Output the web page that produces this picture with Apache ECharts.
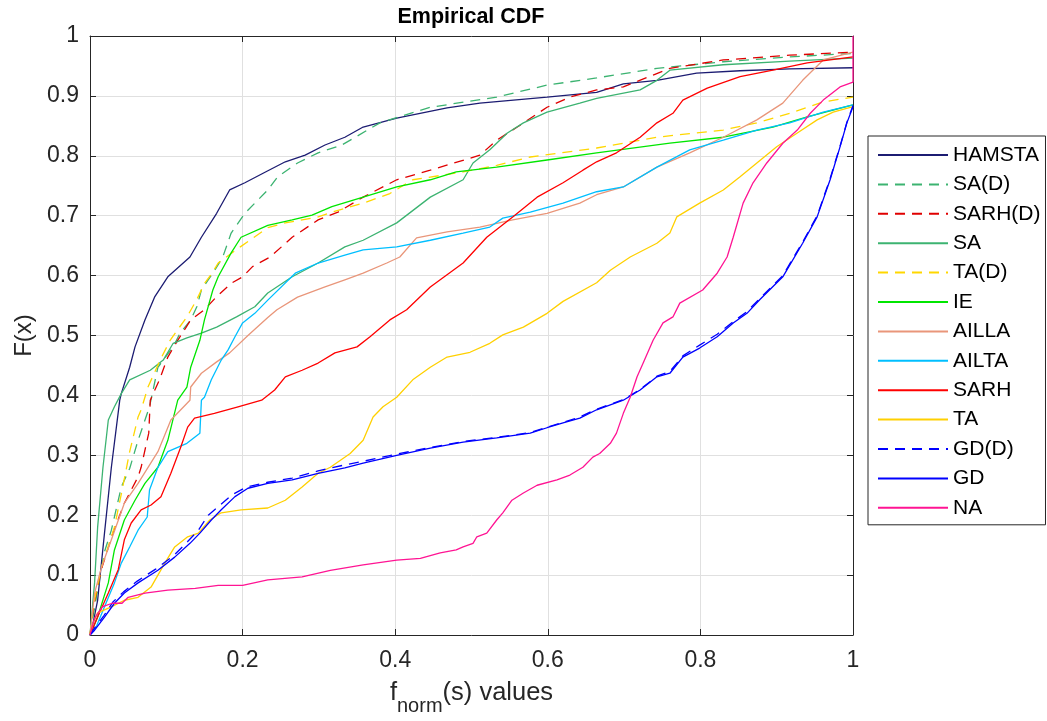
<!DOCTYPE html>
<html>
<head>
<meta charset="utf-8">
<script src="https://cdn.jsdelivr.net/npm/echarts@6/dist/echarts.min.js"></script>
<style>
  html, body { margin: 0; padding: 0; background: #fff; }
  #chart { width: 1047px; height: 721px; }
</style>
</head>
<body>
<div id="chart"></div>
<script>
const seriesNames = ["HAMSTA", "SA(D)", "SARH(D)", "SA", "TA(D)", "IE", "AILLA", "AILTA", "SARH", "TA", "GD(D)", "GD", "NA"];
const xTicks = [0, 0.2, 0.4, 0.6, 0.8, 1];
const yTicks = [0, 0.1, 0.2, 0.3, 0.4, 0.5, 0.6, 0.7, 0.8, 0.9, 1];

// [f_norm, F(x)]
const hamsta = [[0,0],[0.004,0.02],[0.01,0.058],[0.019,0.17],[0.028,0.28],[0.039,0.392],[0.041,0.403],[0.052,0.447],[0.059,0.481],[0.072,0.526],[0.085,0.565],[0.102,0.598],[0.131,0.631],[0.146,0.664],[0.166,0.704],[0.183,0.743],[0.203,0.755],[0.23,0.773],[0.256,0.79],[0.282,0.801],[0.308,0.818],[0.334,0.831],[0.358,0.848],[0.402,0.863],[0.468,0.88],[0.511,0.888],[0.599,0.898],[0.664,0.906],[0.699,0.92],[0.743,0.926],[0.795,0.938],[0.852,0.942],[0.917,0.945],[1,0.947]];
const saD = [[0,0],[0.008,0.06],[0.019,0.139],[0.028,0.175],[0.041,0.247],[0.052,0.278],[0.063,0.325],[0.078,0.381],[0.089,0.447],[0.096,0.459],[0.109,0.481],[0.118,0.504],[0.132,0.526],[0.14,0.548],[0.146,0.576],[0.161,0.604],[0.174,0.631],[0.185,0.671],[0.203,0.704],[0.233,0.743],[0.246,0.765],[0.272,0.788],[0.299,0.805],[0.33,0.818],[0.38,0.855],[0.446,0.881],[0.533,0.898],[0.599,0.918],[0.664,0.93],[0.743,0.946],[0.83,0.957],[0.917,0.965],[1,0.971]];
const sarhD = [[0,0],[0.005,0.05],[0.015,0.11],[0.03,0.17],[0.045,0.22],[0.063,0.264],[0.067,0.28],[0.077,0.337],[0.079,0.392],[0.091,0.426],[0.102,0.464],[0.115,0.492],[0.132,0.526],[0.15,0.543],[0.166,0.565],[0.185,0.587],[0.2,0.598],[0.213,0.615],[0.236,0.631],[0.265,0.664],[0.299,0.693],[0.325,0.706],[0.358,0.731],[0.402,0.76],[0.446,0.776],[0.511,0.801],[0.533,0.826],[0.56,0.848],[0.599,0.881],[0.629,0.898],[0.664,0.91],[0.699,0.915],[0.76,0.946],[0.83,0.96],[0.917,0.968],[1,0.973]];
const sa = [[0,0],[0.002,0.03],[0.006,0.087],[0.01,0.18],[0.017,0.28],[0.024,0.359],[0.032,0.381],[0.041,0.403],[0.052,0.426],[0.079,0.442],[0.096,0.459],[0.109,0.487],[0.127,0.496],[0.146,0.504],[0.166,0.514],[0.192,0.531],[0.216,0.548],[0.233,0.571],[0.265,0.598],[0.299,0.621],[0.334,0.648],[0.358,0.659],[0.402,0.688],[0.446,0.731],[0.489,0.76],[0.502,0.788],[0.524,0.81],[0.547,0.838],[0.568,0.855],[0.599,0.873],[0.642,0.888],[0.664,0.896],[0.721,0.91],[0.743,0.926],[0.76,0.943],[0.83,0.952],[0.917,0.958],[1,0.963]];
const taD = [[0,0],[0.004,0.047],[0.015,0.113],[0.032,0.18],[0.041,0.235],[0.052,0.306],[0.063,0.364],[0.067,0.376],[0.076,0.414],[0.092,0.459],[0.105,0.492],[0.127,0.531],[0.14,0.56],[0.15,0.587],[0.161,0.606],[0.168,0.621],[0.197,0.648],[0.233,0.68],[0.256,0.688],[0.299,0.698],[0.325,0.709],[0.358,0.721],[0.393,0.737],[0.423,0.76],[0.489,0.773],[0.533,0.784],[0.577,0.798],[0.664,0.813],[0.743,0.831],[0.786,0.837],[0.83,0.843],[0.874,0.855],[0.917,0.871],[0.961,0.89],[1,0.898]];
const ie = [[0,0],[0.01,0.03],[0.024,0.087],[0.032,0.142],[0.045,0.192],[0.059,0.225],[0.072,0.253],[0.089,0.28],[0.102,0.325],[0.115,0.392],[0.127,0.414],[0.132,0.447],[0.144,0.492],[0.15,0.526],[0.161,0.576],[0.168,0.598],[0.185,0.638],[0.198,0.664],[0.233,0.684],[0.265,0.693],[0.291,0.701],[0.317,0.715],[0.358,0.731],[0.402,0.748],[0.446,0.76],[0.48,0.773],[0.533,0.781],[0.599,0.793],[0.664,0.805],[0.76,0.821],[0.83,0.831],[0.895,0.848],[0.94,0.865],[1,0.885]];
const ailla = [[0,0],[0.006,0.07],[0.015,0.113],[0.028,0.159],[0.045,0.22],[0.063,0.253],[0.089,0.306],[0.106,0.359],[0.131,0.392],[0.132,0.414],[0.146,0.437],[0.166,0.456],[0.183,0.471],[0.207,0.5],[0.233,0.53],[0.245,0.543],[0.272,0.564],[0.308,0.581],[0.334,0.593],[0.358,0.604],[0.389,0.621],[0.406,0.631],[0.428,0.663],[0.468,0.673],[0.511,0.681],[0.554,0.693],[0.599,0.704],[0.642,0.721],[0.664,0.735],[0.699,0.748],[0.743,0.781],[0.786,0.805],[0.83,0.831],[0.874,0.86],[0.908,0.888],[0.934,0.926],[0.961,0.96],[1,0.973]];
const ailta = [[0,0],[0.008,0.013],[0.019,0.047],[0.032,0.087],[0.041,0.12],[0.052,0.147],[0.063,0.175],[0.075,0.197],[0.078,0.242],[0.089,0.28],[0.102,0.306],[0.127,0.32],[0.144,0.337],[0.146,0.392],[0.15,0.397],[0.159,0.426],[0.172,0.459],[0.181,0.476],[0.19,0.498],[0.2,0.521],[0.216,0.537],[0.233,0.559],[0.269,0.604],[0.299,0.621],[0.334,0.634],[0.358,0.643],[0.402,0.648],[0.446,0.659],[0.489,0.671],[0.524,0.681],[0.541,0.696],[0.577,0.706],[0.62,0.721],[0.664,0.74],[0.699,0.748],[0.743,0.781],[0.786,0.81],[0.83,0.826],[0.874,0.843],[0.917,0.855],[0.961,0.873],[1,0.885]];
const sarh = [[0,0],[0.01,0.03],[0.024,0.07],[0.037,0.109],[0.045,0.159],[0.054,0.187],[0.067,0.209],[0.08,0.217],[0.093,0.231],[0.106,0.27],[0.119,0.314],[0.128,0.347],[0.137,0.362],[0.163,0.37],[0.194,0.381],[0.225,0.392],[0.242,0.409],[0.256,0.431],[0.278,0.442],[0.299,0.454],[0.321,0.471],[0.35,0.481],[0.367,0.498],[0.393,0.526],[0.415,0.543],[0.446,0.581],[0.489,0.621],[0.52,0.664],[0.554,0.698],[0.586,0.731],[0.62,0.755],[0.646,0.776],[0.664,0.79],[0.69,0.805],[0.721,0.831],[0.743,0.855],[0.764,0.871],[0.777,0.893],[0.809,0.913],[0.852,0.932],[0.895,0.943],[0.94,0.955],[1,0.965]];
const ta = [[0,0],[0.004,0.02],[0.01,0.037],[0.028,0.047],[0.045,0.058],[0.063,0.063],[0.08,0.08],[0.098,0.12],[0.111,0.147],[0.128,0.164],[0.142,0.17],[0.157,0.192],[0.172,0.204],[0.198,0.209],[0.233,0.212],[0.256,0.225],[0.278,0.247],[0.299,0.27],[0.315,0.28],[0.341,0.303],[0.358,0.325],[0.371,0.364],[0.384,0.381],[0.402,0.397],[0.423,0.426],[0.446,0.447],[0.468,0.464],[0.498,0.472],[0.524,0.487],[0.541,0.501],[0.568,0.514],[0.599,0.537],[0.62,0.557],[0.664,0.588],[0.682,0.609],[0.708,0.631],[0.743,0.654],[0.76,0.671],[0.769,0.698],[0.799,0.721],[0.83,0.743],[0.852,0.765],[0.874,0.788],[0.9,0.815],[0.927,0.838],[0.953,0.86],[0.974,0.873],[1,0.882]];
const gdD = [[0,0],[0.005,0.01],[0.018,0.032],[0.03,0.055],[0.044,0.072],[0.062,0.09],[0.086,0.11],[0.11,0.133],[0.128,0.156],[0.142,0.175],[0.155,0.2],[0.168,0.214],[0.186,0.234],[0.205,0.247],[0.233,0.255],[0.265,0.262],[0.299,0.274],[0.334,0.284],[0.358,0.29],[0.402,0.302],[0.446,0.313],[0.489,0.323],[0.533,0.33],[0.577,0.338],[0.599,0.347],[0.62,0.355],[0.642,0.364],[0.664,0.377],[0.699,0.393],[0.721,0.41],[0.743,0.432],[0.76,0.44],[0.777,0.466],[0.799,0.484],[0.822,0.502],[0.843,0.523],[0.861,0.54],[0.878,0.562],[0.908,0.6],[0.934,0.656],[0.953,0.7],[0.97,0.762],[0.983,0.816],[0.992,0.856],[1,0.884]];
const gd = [[0,0],[0.006,0.008],[0.019,0.03],[0.032,0.053],[0.045,0.07],[0.063,0.087],[0.089,0.108],[0.111,0.13],[0.131,0.153],[0.144,0.17],[0.159,0.192],[0.172,0.209],[0.19,0.231],[0.207,0.245],[0.233,0.253],[0.265,0.259],[0.299,0.27],[0.334,0.279],[0.358,0.287],[0.402,0.3],[0.446,0.312],[0.489,0.322],[0.533,0.329],[0.577,0.337],[0.599,0.346],[0.62,0.354],[0.642,0.362],[0.664,0.376],[0.699,0.392],[0.721,0.409],[0.743,0.431],[0.76,0.437],[0.777,0.464],[0.799,0.479],[0.822,0.498],[0.843,0.521],[0.861,0.537],[0.878,0.56],[0.908,0.598],[0.934,0.654],[0.953,0.698],[0.97,0.76],[0.983,0.815],[0.992,0.855],[1,0.882]];
const na = [[0,0],[0.003,0.015],[0.007,0.03],[0.016,0.047],[0.029,0.053],[0.042,0.053],[0.05,0.063],[0.072,0.07],[0.102,0.075],[0.138,0.078],[0.168,0.083],[0.2,0.083],[0.233,0.092],[0.278,0.097],[0.315,0.108],[0.358,0.117],[0.402,0.125],[0.433,0.128],[0.459,0.137],[0.48,0.142],[0.489,0.147],[0.502,0.153],[0.507,0.164],[0.52,0.17],[0.533,0.192],[0.541,0.204],[0.553,0.225],[0.568,0.237],[0.586,0.25],[0.612,0.259],[0.629,0.267],[0.646,0.28],[0.659,0.297],[0.668,0.303],[0.682,0.32],[0.69,0.337],[0.699,0.37],[0.708,0.397],[0.717,0.431],[0.725,0.454],[0.738,0.492],[0.751,0.521],[0.764,0.531],[0.773,0.554],[0.803,0.576],[0.822,0.604],[0.835,0.631],[0.843,0.664],[0.856,0.721],[0.869,0.755],[0.887,0.788],[0.908,0.821],[0.927,0.843],[0.944,0.871],[0.961,0.893],[0.983,0.915],[1,0.923],[1,1]];

const seriesData = [hamsta, saD, sarhD, sa, taD, ie, ailla, ailta, sarh, ta, gdD, gd, na];
const colors = ["#1c1c72", "#3cb371", "#e00000", "#3cb371", "#ffd700", "#00e600", "#e9967a", "#00bfff", "#ff0000", "#ffd000", "#0000ff", "#0000ff", "#ff1493"];
const dashed = [false, true, true, false, true, false, false, false, false, false, true, false, false];

const FONT = "'Liberation Sans', Arial, sans-serif";
const chart = echarts.init(document.getElementById("chart"));

const series = seriesNames.map((name, i) => ({
  name,
  type: "line",
  xAxisIndex: 0,
  yAxisIndex: 0,
  symbol: "none",
  animation: false,
  data: seriesData[i],
  lineStyle: { color: colors[i], width: 1.3, type: dashed[i] ? [10, 7] : "solid" },
  itemStyle: { color: colors[i] }
}));

const axisCommon = {
  type: "value",
  min: 0,
  max: 1,
  axisLine: { show: true, onZero: false, lineStyle: { color: "#262626", width: 1 } },
  axisTick: { show: true, inside: true, length: 6, lineStyle: { color: "#262626" } }
};

chart.setOption({
  backgroundColor: "#fff",
  animation: false,
  title: {
    text: "Empirical CDF",
    left: 466,
    top: 1,
    textAlign: "center",
    textStyle: { fontFamily: FONT, fontSize: 21.5, fontWeight: "bold", color: "#000" }
  },
  grid: { left: 90, right: 194, top: 36, bottom: 86, outerBoundsMode: "none" },
  legend: {
    orient: "vertical",
    left: 868,
    top: 136,
    padding: [8, 5, 6, 9],
    itemWidth: 70,
    itemHeight: 14,
    itemGap: 7.4,
    itemTextGap: 6,
    borderColor: "#262626",
    borderWidth: 1,
    backgroundColor: "#fff",
    itemStyle: { color: "rgba(0,0,0,0)", borderColor: "rgba(0,0,0,0)", borderWidth: 0, opacity: 0 },
    data: seriesNames,
    textStyle: { fontFamily: FONT, fontSize: 21, color: "#000", lineHeight: 22 }
  },
  xAxis: [
    Object.assign({}, axisCommon, {
      position: "bottom",
      interval: 0.2,
      name: "{f|f}{sub|norm}{n|(s) values}",
      nameLocation: "middle",
      nameGap: 35,
      nameTextStyle: {
        fontFamily: FONT, color: "#262626",
        rich: {
          f: { fontSize: 25.5, fontFamily: FONT, color: "#262626" },
          sub: { fontSize: 20, fontFamily: FONT, color: "#262626", padding: [26, 0, 0, 0] },
          n: { fontSize: 25.5, fontFamily: FONT, color: "#262626" }
        }
      },
      axisLabel: { fontFamily: FONT, fontSize: 23, color: "#262626", margin: 14 },
      splitLine: { show: true, lineStyle: { color: "#e0e0e0", width: 1 } }
    }),
    Object.assign({}, axisCommon, {
      position: "top",
      interval: 0.2,
      axisLabel: { show: false },
      splitLine: { show: false }
    })
  ],
  yAxis: [
    Object.assign({}, axisCommon, {
      position: "left",
      interval: 0.1,
      name: "F(x)",
      nameLocation: "middle",
      nameGap: 44,
      nameRotate: 90,
      nameTextStyle: { fontFamily: FONT, fontSize: 24, color: "#262626" },
      axisLabel: { fontFamily: FONT, fontSize: 23, color: "#262626", margin: 11 },
      splitLine: { show: true, lineStyle: { color: "#e0e0e0", width: 1 } }
    }),
    Object.assign({}, axisCommon, {
      position: "right",
      interval: 0.1,
      axisLabel: { show: false },
      splitLine: { show: false }
    })
  ],
  series
});
</script>
</body>
</html>
